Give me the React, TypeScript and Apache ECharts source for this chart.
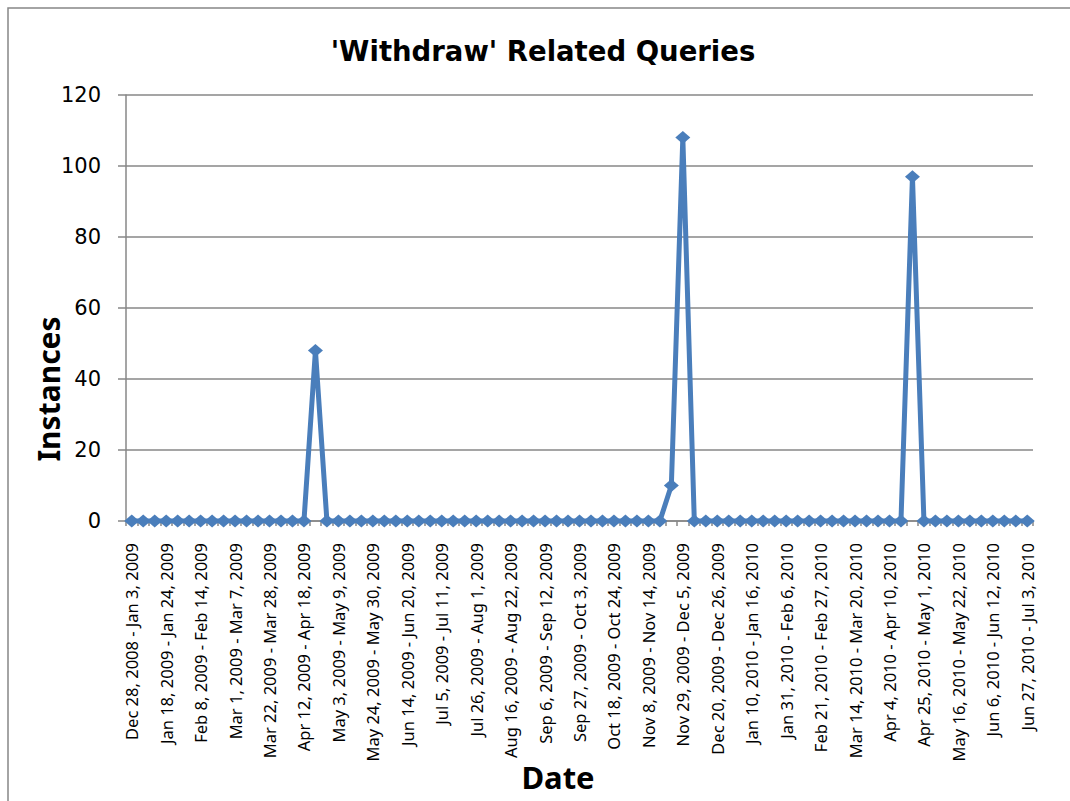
import React, { useEffect, useRef } from "react";
import * as echarts from "echarts";

const weeks: string[] = [
  "Dec 28, 2008 - Jan 3, 2009", "Jan 4, 2009 - Jan 10, 2009", "Jan 11, 2009 - Jan 17, 2009",
  "Jan 18, 2009 - Jan 24, 2009", "Jan 25, 2009 - Jan 31, 2009", "Feb 1, 2009 - Feb 7, 2009",
  "Feb 8, 2009 - Feb 14, 2009", "Feb 15, 2009 - Feb 21, 2009", "Feb 22, 2009 - Feb 28, 2009",
  "Mar 1, 2009 - Mar 7, 2009", "Mar 8, 2009 - Mar 14, 2009", "Mar 15, 2009 - Mar 21, 2009",
  "Mar 22, 2009 - Mar 28, 2009", "Mar 29, 2009 - Apr 4, 2009", "Apr 5, 2009 - Apr 11, 2009",
  "Apr 12, 2009 - Apr 18, 2009", "Apr 19, 2009 - Apr 25, 2009", "Apr 26, 2009 - May 2, 2009",
  "May 3, 2009 - May 9, 2009", "May 10, 2009 - May 16, 2009", "May 17, 2009 - May 23, 2009",
  "May 24, 2009 - May 30, 2009", "May 31, 2009 - Jun 6, 2009", "Jun 7, 2009 - Jun 13, 2009",
  "Jun 14, 2009 - Jun 20, 2009", "Jun 21, 2009 - Jun 27, 2009", "Jun 28, 2009 - Jul 4, 2009",
  "Jul 5, 2009 - Jul 11, 2009", "Jul 12, 2009 - Jul 18, 2009", "Jul 19, 2009 - Jul 25, 2009",
  "Jul 26, 2009 - Aug 1, 2009", "Aug 2, 2009 - Aug 8, 2009", "Aug 9, 2009 - Aug 15, 2009",
  "Aug 16, 2009 - Aug 22, 2009", "Aug 23, 2009 - Aug 29, 2009", "Aug 30, 2009 - Sep 5, 2009",
  "Sep 6, 2009 - Sep 12, 2009", "Sep 13, 2009 - Sep 19, 2009", "Sep 20, 2009 - Sep 26, 2009",
  "Sep 27, 2009 - Oct 3, 2009", "Oct 4, 2009 - Oct 10, 2009", "Oct 11, 2009 - Oct 17, 2009",
  "Oct 18, 2009 - Oct 24, 2009", "Oct 25, 2009 - Oct 31, 2009", "Nov 1, 2009 - Nov 7, 2009",
  "Nov 8, 2009 - Nov 14, 2009", "Nov 15, 2009 - Nov 21, 2009", "Nov 22, 2009 - Nov 28, 2009",
  "Nov 29, 2009 - Dec 5, 2009", "Dec 6, 2009 - Dec 12, 2009", "Dec 13, 2009 - Dec 19, 2009",
  "Dec 20, 2009 - Dec 26, 2009", "Dec 27, 2009 - Jan 2, 2010", "Jan 3, 2010 - Jan 9, 2010",
  "Jan 10, 2010 - Jan 16, 2010", "Jan 17, 2010 - Jan 23, 2010", "Jan 24, 2010 - Jan 30, 2010",
  "Jan 31, 2010 - Feb 6, 2010", "Feb 7, 2010 - Feb 13, 2010", "Feb 14, 2010 - Feb 20, 2010",
  "Feb 21, 2010 - Feb 27, 2010", "Feb 28, 2010 - Mar 6, 2010", "Mar 7, 2010 - Mar 13, 2010",
  "Mar 14, 2010 - Mar 20, 2010", "Mar 21, 2010 - Mar 27, 2010", "Mar 28, 2010 - Apr 3, 2010",
  "Apr 4, 2010 - Apr 10, 2010", "Apr 11, 2010 - Apr 17, 2010", "Apr 18, 2010 - Apr 24, 2010",
  "Apr 25, 2010 - May 1, 2010", "May 2, 2010 - May 8, 2010", "May 9, 2010 - May 15, 2010",
  "May 16, 2010 - May 22, 2010", "May 23, 2010 - May 29, 2010", "May 30, 2010 - Jun 5, 2010",
  "Jun 6, 2010 - Jun 12, 2010", "Jun 13, 2010 - Jun 19, 2010", "Jun 20, 2010 - Jun 26, 2010",
  "Jun 27, 2010 - Jul 3, 2010",
];

const instances: number[] = [
  0, 0, 0, 0, 0, 0, 0, 0, 0, 0, 0, 0, 0, 0, 0, 0,
  48,
  0, 0, 0, 0, 0, 0, 0, 0, 0, 0, 0, 0, 0, 0, 0, 0, 0, 0, 0, 0, 0, 0, 0, 0, 0, 0, 0, 0, 0, 0,
  10, 108,
  0, 0, 0, 0, 0, 0, 0, 0, 0, 0, 0, 0, 0, 0, 0, 0, 0, 0, 0,
  97,
  0, 0, 0, 0, 0, 0, 0, 0, 0, 0,
];

const yTicks = { min: 0, max: 120, interval: 20 };
const titleText = "'Withdraw' Related Queries";
const yName = "Instances";
const xName = "Date";

export default function App() {
  const ref = useRef<HTMLDivElement>(null);
  useEffect(() => {
    document.body.style.margin = "0";
    const chart = echarts.init(ref.current!, null, { renderer: "svg" });
    const grey = "#878787";
    chart.setOption({
      animation: false,
      backgroundColor: "#ffffff",
      graphic: [
        {
          type: "rect",
          shape: { x: 8, y: 8, width: 1100, height: 850 },
          style: { fill: "none", stroke: grey, lineWidth: 1.5 },
          silent: true,
          z: -1,
        },
        {
          type: "text",
          x: 543,
          y: 51,
          style: {
            text: titleText,
            fontFamily: "DejaVu Sans",
            fontWeight: "bold",
            fontSize: 27.5,
            fill: "#000",
            align: "center",
            verticalAlign: "middle",
          },
        },
        {
          type: "text",
          x: 48,
          y: 389,
          rotation: Math.PI / 2,
          style: {
            text: yName,
            fontFamily: "Noto Sans",
            fontWeight: "bold",
            fontSize: 30,
            fill: "#000",
            align: "center",
            verticalAlign: "middle",
          },
        },
        {
          type: "text",
          x: 558,
          y: 777,
          style: {
            text: xName,
            fontFamily: "Noto Sans",
            fontWeight: "bold",
            fontSize: 31,
            fill: "#000",
            align: "center",
            verticalAlign: "middle",
          },
        },
      ],
      grid: { left: 126, right: 37, top: 95, bottom: 280, containLabel: false },
      xAxis: {
        type: "category",
        data: weeks,
        boundaryGap: true,
        axisLine: { lineStyle: { color: grey, width: 1.5 } },
        axisTick: { show: true, interval: 0, length: 5, lineStyle: { color: grey, width: 1.5 } },
        axisLabel: {
          interval: 2,
          rotate: 90,
          margin: 22,
          color: "#000",
          fontFamily: "Noto Sans",
          fontSize: 16.5,
        },
        splitLine: { show: false },
      },
      yAxis: {
        type: "value",
        min: yTicks.min,
        max: yTicks.max,
        interval: yTicks.interval,
        axisLine: { show: true, lineStyle: { color: grey, width: 1.5 } },
        axisTick: { show: true, length: 8, lineStyle: { color: grey, width: 1.5 } },
        axisLabel: {
          margin: 25,
          color: "#000",
          fontFamily: "DejaVu Sans",
          fontSize: 21,
        },
        splitLine: { show: true, lineStyle: { color: grey, width: 1.5 } },
      },
      series: [
        {
          type: "line",
          data: instances,
          symbol: "diamond",
          symbolSize: [15, 13],
          showSymbol: true,
          showAllSymbol: true,
          lineStyle: { color: "#4a7ebb", width: 5 },
          itemStyle: { color: "#4a7ebb" },
        },
      ],
    });
    return () => chart.dispose();
  }, []);
  return <div ref={ref} style={{ position: "fixed", left: 0, top: 0, width: 1070, height: 801 }} />;
}
